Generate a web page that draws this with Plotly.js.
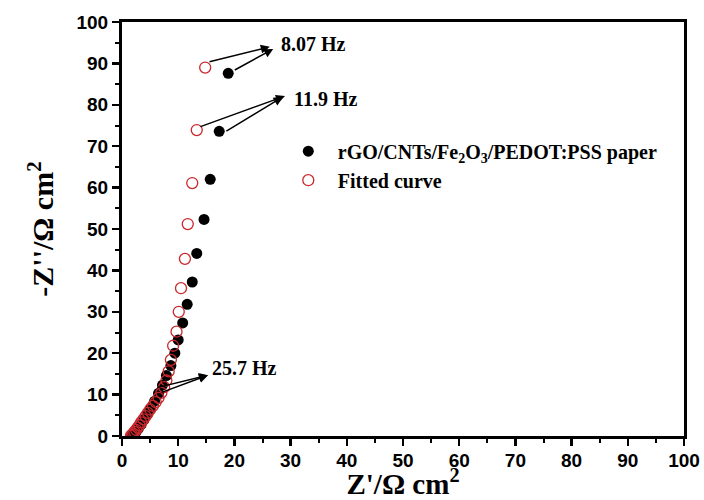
<!DOCTYPE html>
<html>
<head>
<meta charset="utf-8">
<script src="https://cdn.plot.ly/plotly-3.0.1.min.js"></script>
<style>html,body{margin:0;padding:0;background:#fff;}</style>
</head>
<body>
<div id="chart" style="width:704px;height:500px;"></div>
<script>
// Measured data: Z' (x) and -Z'' (y), Ω cm²
const measuredX = [18.9,17.3,15.7,14.6,13.3,12.5,11.6,10.8,10.0,9.4,8.7,7.9,7.2,6.5,5.8,5.1,4.5,3.9,3.4,2.9,2.5,2.1,1.8];
const measuredY = [87.6,73.6,62.0,52.3,44.1,37.2,31.8,27.3,23.2,20.0,17.0,14.6,12.3,10.3,8.4,6.7,5.2,3.9,2.8,1.8,1.0,0.4,0.1];
// Fitted curve
const fittedX = [14.8,13.3,12.5,11.7,11.2,10.5,10.1,9.7,9.1,8.7,8.3,7.9,7.5,7.0,6.5,6.0,5.5,5.0,4.6,4.2,3.8,3.4,3.1,2.8,2.5,2.2,2.0,1.8,1.6];
const fittedY = [89.0,73.9,61.1,51.2,42.8,35.7,30.0,25.2,21.8,18.4,15.6,13.4,11.8,10.4,9.2,8.2,7.3,6.4,5.6,4.8,4.0,3.3,2.6,2.0,1.5,1.0,0.6,0.3,0.1];
const seriesNames = ["<b>rGO/CNTs/Fe<sub>2</sub>O<sub>3</sub>/PEDOT:PSS paper</b>", "<b>Fitted curve</b>"];
const tickVals = [0,10,20,30,40,50,60,70,80,90,100];
const tickText = ["0","10","20","30","40","50","60","70","80","90","100"];
// Frequency labels: [text, x, y]
const freqLabels = [["8.07 Hz", 28.0, 94.7], ["11.9 Hz", 30.2, 81.4], ["25.7 Hz", 15.6, 16.4]];
// Arrows: [tailX, tailY, headX, headY]
const arrows = [
  [15.3, 90.3, 26.3, 94.0],
  [19.8, 88.2, 26.9, 93.5],
  [13.7, 74.6, 29.0, 82.1],
  [18.3, 73.4, 28.6, 81.9],
  [6.0, 11.6, 15.3, 14.7],
  [6.8, 10.4, 15.3, 14.7]
];

const serif = "Liberation Serif, Times New Roman, serif";
const sans = "Arial, Liberation Sans, sans-serif";

const traces = [
  {x: measuredX, y: measuredY, mode: "markers", type: "scatter", name: seriesNames[0],
   marker: {symbol: "circle", size: 11, color: "#000000"}},
  {x: fittedX, y: fittedY, mode: "markers", type: "scatter", name: seriesNames[1],
   marker: {symbol: "circle-open", size: 11, color: "#c8282d", line: {width: 1.3, color: "#c8282d"}}}
];

const annotations = [];
arrows.forEach(a => annotations.push({
  x: a[2], y: a[3], ax: a[0], ay: a[1], xref: "x", yref: "y", axref: "x", ayref: "y",
  text: "", showarrow: true, arrowhead: 2, arrowsize: 1.2, arrowwidth: 1.5, arrowcolor: "#000"
}));
freqLabels.forEach(f => annotations.push({
  x: f[1], y: f[2], xref: "x", yref: "y", text: "<b>" + f[0] + "</b>", showarrow: false,
  xanchor: "left", yanchor: "middle", font: {family: serif, size: 20, color: "#000", weight: 700}
}));

const axisCommon = {
  range: [0, 100], tickvals: tickVals, ticktext: tickText.map(t => "<b>" + t + "</b>"),
  showgrid: false, zeroline: false,
  showline: true, linecolor: "#000", linewidth: 3, mirror: true,
  ticks: "outside", ticklen: 7, tickwidth: 2.5, tickcolor: "#000",
  minor: {dtick: 5, ticks: "outside", ticklen: 4, tickwidth: 2, tickcolor: "#000"},
  tickfont: {family: sans, size: 19, color: "#000", weight: 700}
};

const layout = {
  width: 704, height: 500,
  margin: {l: 122, r: 20, t: 22, b: 64},
  paper_bgcolor: "#fff", plot_bgcolor: "#fff",
  showlegend: true,
  legend: {x: 0.279, y: 0.735, xanchor: "left", yanchor: "top", bgcolor: "rgba(0,0,0,0)",
           itemwidth: 49,
           font: {family: serif, size: 20, color: "#000", weight: 700}, tracegroupgap: 6},
  xaxis: Object.assign({}, axisCommon, {
    ticklabelstandoff: -2,
    title: {text: "<b>Z'/Ω cm<sup>2</sup></b>", font: {family: serif, size: 29, color: "#000", weight: 700}, standoff: 3}
  }),
  yaxis: Object.assign({}, axisCommon, {
    title: {text: "<b>-Z''/Ω cm<sup>2</sup></b>", font: {family: serif, size: 30, color: "#000", weight: 700}, standoff: 14}
  }),
  annotations: annotations
};

Plotly.newPlot("chart", traces, layout, {displayModeBar: false, staticPlot: true});
</script>
</body>
</html>
